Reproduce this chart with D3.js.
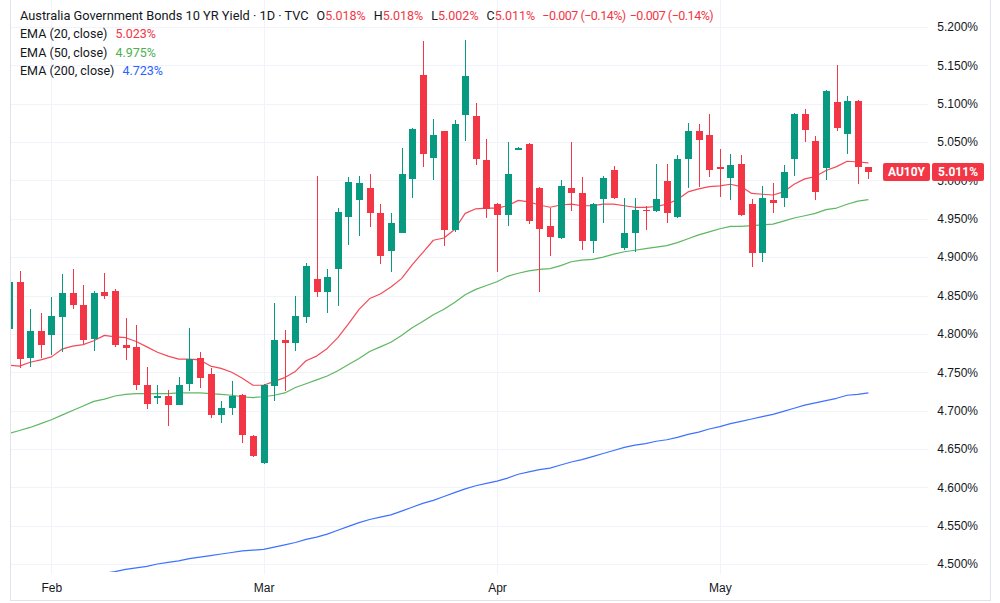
<!DOCTYPE html>
<html>
<head>
<meta charset="utf-8">
<script src="https://cdn.jsdelivr.net/npm/d3@7"></script>
<style>
  html, body { margin: 0; padding: 0; background: #ffffff; }
  svg { display: block; font-family: Roboto, "Noto Sans", sans-serif; }
</style>
</head>
<body>
<svg id="chart" width="1000" height="603"></svg>
<script>
// daily candles, AU10Y (percent)
const opens = [
  4.806, 4.868, 4.769, 4.804, 4.799, 4.822, 4.853, 4.838, 4.793, 4.855,
  4.856, 4.786, 4.783, 4.733, 4.717, 4.719, 4.707, 4.735, 4.768, 4.748,
  4.694, 4.704, 4.720, 4.667, 4.632, 4.732, 4.792, 4.788, 4.822, 4.871,
  4.855, 4.884, 4.952, 4.975, 4.990, 4.957, 4.908, 4.932, 5.002, 5.138,
  5.029, 5.064, 4.936, 5.085, 5.084, 5.026, 4.969, 4.955, 5.040, 5.048,
  4.990, 4.940, 4.925, 4.990, 4.984, 4.921, 4.976, 5.014, 4.912, 4.932,
  4.962, 4.960, 4.999, 4.952, 5.028, 5.064, 5.059, 5.017, 5.003, 5.022,
  4.969, 4.905, 4.974, 4.977, 5.028, 5.087, 5.051, 5.016, 5.102, 5.060,
  5.104, 5.018
];
const highs = [
  4.867, 4.882, 4.832, 4.827, 4.848, 4.878, 4.884, 4.864, 4.856, 4.879,
  4.859, 4.821, 4.811, 4.757, 4.733, 4.727, 4.744, 4.808, 4.776, 4.755,
  4.713, 4.738, 4.722, 4.668, 4.735, 4.840, 4.805, 4.849, 4.893, 5.006,
  4.884, 4.964, 5.004, 5.006, 5.008, 4.969, 4.958, 5.042, 5.068, 5.182,
  5.080, 5.065, 5.079, 5.183, 5.101, 5.054, 4.970, 5.050, 5.043, 5.049,
  4.991, 4.964, 5.001, 5.050, 5.004, 4.970, 5.006, 5.019, 4.977, 4.977,
  4.967, 5.021, 5.021, 5.033, 5.075, 5.074, 5.087, 5.041, 5.035, 5.033,
  4.976, 4.993, 4.996, 5.020, 5.088, 5.093, 5.058, 5.118, 5.151, 5.110,
  5.105, 5.018
];
const lows = [
  4.806, 4.756, 4.757, 4.769, 4.772, 4.777, 4.832, 4.787, 4.778, 4.846,
  4.783, 4.766, 4.727, 4.702, 4.708, 4.680, 4.707, 4.726, 4.730, 4.690,
  4.684, 4.694, 4.658, 4.640, 4.631, 4.713, 4.725, 4.778, 4.814, 4.848,
  4.827, 4.836, 4.916, 4.927, 4.939, 4.891, 4.880, 4.932, 4.977, 5.018,
  5.000, 4.914, 4.933, 5.051, 5.020, 4.951, 4.880, 4.940, 5.040, 4.943,
  4.854, 4.901, 4.923, 4.960, 4.909, 4.906, 4.945, 4.976, 4.909, 4.907,
  4.936, 4.959, 4.945, 4.951, 4.990, 4.991, 5.005, 4.979, 4.975, 4.954,
  4.887, 4.894, 4.958, 4.966, 5.006, 5.050, 4.975, 5.001, 5.064, 5.034,
  4.995, 5.002
];
const closes = [
  4.867, 4.767, 4.804, 4.786, 4.823, 4.853, 4.838, 4.792, 4.853, 4.850,
  4.785, 4.782, 4.733, 4.708, 4.719, 4.707, 4.733, 4.767, 4.743, 4.694,
  4.703, 4.719, 4.668, 4.641, 4.733, 4.792, 4.788, 4.823, 4.888, 4.855,
  4.874, 4.959, 4.998, 4.996, 4.958, 4.901, 4.945, 5.009, 5.067, 5.035,
  5.059, 4.935, 5.074, 5.136, 5.028, 4.963, 4.955, 5.009, 5.042, 4.947,
  4.937, 4.926, 4.993, 4.983, 4.921, 4.969, 5.003, 4.977, 4.932, 4.961,
  4.960, 4.976, 4.957, 5.028, 5.064, 5.053, 5.014, 5.015, 5.020, 4.955,
  4.905, 4.977, 4.971, 5.011, 5.087, 5.066, 4.985, 5.117, 5.068, 5.104,
  5.018, 5.011
];

// moving averages, read per candle
const ema20 = [
  4.759, 4.758, 4.763, 4.766, 4.770, 4.780, 4.784, 4.786, 4.791, 4.798,
  4.796, 4.795, 4.790, 4.783, 4.776, 4.771, 4.767, 4.767, 4.766, 4.758,
  4.755, 4.750, 4.742, 4.733, 4.733, 4.738, 4.743, 4.751, 4.765, 4.771,
  4.781, 4.795, 4.813, 4.832, 4.846, 4.852, 4.861, 4.872, 4.890, 4.906,
  4.922, 4.925, 4.936, 4.957, 4.963, 4.964, 4.964, 4.967, 4.974, 4.972,
  4.968, 4.965, 4.968, 4.969, 4.967, 4.967, 4.969, 4.969, 4.967, 4.965,
  4.965, 4.966, 4.969, 4.975, 4.985, 4.989, 4.992, 4.993, 4.995, 4.992,
  4.983, 4.982, 4.981, 4.985, 4.995, 5.002, 5.005, 5.013, 5.018, 5.025,
  5.024, 5.023
];
const ema50 = [
  4.670, 4.674, 4.678, 4.683, 4.688, 4.694, 4.700, 4.706, 4.712, 4.715,
  4.719, 4.721, 4.722, 4.722, 4.722, 4.722, 4.723, 4.723, 4.723, 4.722,
  4.721, 4.720, 4.718, 4.717, 4.718, 4.720, 4.723, 4.730, 4.735, 4.740,
  4.745, 4.752, 4.760, 4.768, 4.777, 4.783, 4.789, 4.798, 4.808, 4.816,
  4.825, 4.832, 4.841, 4.851, 4.858, 4.863, 4.868, 4.875, 4.879, 4.882,
  4.884, 4.885, 4.889, 4.894, 4.896, 4.897, 4.900, 4.904, 4.907, 4.909,
  4.911, 4.913, 4.915, 4.919, 4.924, 4.929, 4.933, 4.937, 4.940, 4.940,
  4.941, 4.942, 4.943, 4.947, 4.951, 4.954, 4.957, 4.962, 4.964, 4.969,
  4.973, 4.975
];
const ema200 = [
  4.468, 4.470, 4.472, 4.474, 4.476, 4.479, 4.481, 4.483, 4.485, 4.488,
  4.490, 4.493, 4.495, 4.497, 4.500, 4.502, 4.504, 4.507, 4.509, 4.511,
  4.513, 4.515, 4.517, 4.518, 4.519, 4.522, 4.525, 4.528, 4.532, 4.535,
  4.539, 4.544, 4.549, 4.554, 4.558, 4.561, 4.564, 4.569, 4.574, 4.579,
  4.583, 4.588, 4.593, 4.598, 4.602, 4.605, 4.608, 4.612, 4.617, 4.620,
  4.623, 4.625, 4.629, 4.633, 4.636, 4.640, 4.644, 4.648, 4.652, 4.655,
  4.657, 4.660, 4.662, 4.665, 4.669, 4.672, 4.676, 4.679, 4.683, 4.686,
  4.689, 4.692, 4.695, 4.699, 4.703, 4.707, 4.710, 4.713, 4.716, 4.720,
  4.721, 4.723
];

// first candle of each month and its label
const monthIndex = [4, 24, 46, 67];
const monthLabels = ['Feb', 'Mar', 'Apr', 'May'];
const yTicks = [4.5, 4.55, 4.6, 4.65, 4.7, 4.75, 4.8, 4.85, 4.9, 4.95, 5.0, 5.05, 5.1, 5.15, 5.2];

const symbolName = 'Australia Government Bonds 10 YR Yield · 1D · TVC';
const tickerName = 'AU10Y';

const UP = '#089981';
const DOWN = '#F23645';
const TEXT = '#131722';
const GRID = '#f0f3fa';

const width = 1000;
const height = 603;
const plot = { left: 11, right: 928, top: 0, bottom: 572 };

const n = closes.length;
const candles = d3.range(n).map(i => ({
  i, o: opens[i], h: highs[i], l: lows[i], c: closes[i]
}));

const x = d3.scaleLinear()
  .domain([0, n - 1])
  .range([8.9, 868.4]);

const y = d3.scaleLinear()
  .domain([4.5, 5.2])
  .range([564, 27]);

const svg = d3.select('#chart')
  .attr('viewBox', [0, 0, width, height]);

svg.append('defs').append('clipPath')
  .attr('id', 'plot-clip')
  .append('rect')
  .attr('x', plot.left)
  .attr('y', plot.top)
  .attr('width', plot.right - plot.left)
  .attr('height', plot.bottom - plot.top);

// grid
const grid = svg.append('g').attr('shape-rendering', 'crispEdges');
grid.selectAll('.hgrid')
  .data(yTicks)
  .enter().append('line')
  .attr('x1', plot.left)
  .attr('x2', plot.right)
  .attr('y1', d => Math.round(y(d)) + 0.5)
  .attr('y2', d => Math.round(y(d)) + 0.5)
  .attr('stroke', GRID);
grid.selectAll('.vgrid')
  .data(monthIndex)
  .enter().append('line')
  .attr('x1', d => Math.round(x(d)) + 0.5)
  .attr('x2', d => Math.round(x(d)) + 0.5)
  .attr('y1', plot.top)
  .attr('y2', plot.bottom + 2)
  .attr('stroke', GRID);

const body = svg.append('g').attr('clip-path', 'url(#plot-clip)');

// EMA lines
const line = d3.line()
  .x((d, i) => x(i))
  .y(d => y(d));

[[ema200, '#2962FF'], [ema50, '#4CAF50'], [ema20, '#F23645']].forEach(([values, color]) => {
  body.append('path')
    .datum(values)
    .attr('fill', 'none')
    .attr('stroke', color)
    .attr('stroke-width', 1.2)
    .attr('stroke-opacity', 0.9)
    .attr('stroke-linejoin', 'round')
    .attr('d', line);
});

// candles
const candle = body.selectAll('.candle')
  .data(candles)
  .enter().append('g')
  .attr('class', 'candle')
  .attr('shape-rendering', 'crispEdges');

candle.append('line')
  .attr('x1', d => Math.round(x(d.i)) + 0.5)
  .attr('x2', d => Math.round(x(d.i)) + 0.5)
  .attr('y1', d => y(d.h))
  .attr('y2', d => y(d.l))
  .attr('stroke', d => d.c >= d.o ? UP : DOWN);

candle.append('rect')
  .attr('x', d => Math.round(x(d.i)) - 3)
  .attr('width', 7)
  .attr('y', d => y(Math.max(d.o, d.c)))
  .attr('height', d => Math.max(1.5, Math.abs(y(d.o) - y(d.c))))
  .attr('fill', d => d.c >= d.o ? UP : DOWN);

// price axis
const yAxis = svg.append('g')
  .attr('transform', 'translate(978,0)')
  .call(d3.axisLeft(y)
    .tickValues(yTicks)
    .tickSize(0)
    .tickPadding(0)
    .tickFormat(d => d.toFixed(3) + '%'));
yAxis.select('.domain').remove();
yAxis.selectAll('text')
  .attr('fill', TEXT)
  .style('font-size', '12px');

// time axis
const xAxis = svg.append('g')
  .attr('transform', `translate(0,${plot.bottom})`)
  .call(d3.axisBottom(x)
    .tickValues(monthIndex)
    .tickSize(0)
    .tickPadding(11)
    .tickFormat((d, i) => monthLabels[i]));
xAxis.select('.domain').remove();
xAxis.selectAll('text')
  .attr('fill', TEXT)
  .style('font-size', '12px');

// outer frame
svg.append('rect')
  .attr('x', 10.5)
  .attr('y', -1)
  .attr('width', 980)
  .attr('height', 601.5)
  .attr('fill', 'none')
  .attr('stroke', '#e0e3eb');

// last price labels
const last = candles[n - 1];
const lastY = y(last.c);
const lastColor = last.c >= last.o ? UP : DOWN;
svg.append('rect')
  .attr('x', 883).attr('y', lastY - 9)
  .attr('width', 47).attr('height', 18)
  .attr('rx', 2)
  .attr('fill', lastColor);
svg.append('text')
  .attr('x', 906.5).attr('y', lastY + 4.5)
  .attr('text-anchor', 'middle')
  .attr('fill', '#fff')
  .style('font-size', '12px')
  .style('font-weight', 'bold')
  .text(tickerName);
svg.append('rect')
  .attr('x', 932).attr('y', lastY - 9)
  .attr('width', 52).attr('height', 18)
  .attr('rx', 2)
  .attr('fill', lastColor);
svg.append('text')
  .attr('x', 978).attr('y', lastY + 4.5)
  .attr('text-anchor', 'end')
  .attr('fill', '#fff')
  .style('font-size', '12px')
  .style('font-weight', 'bold')
  .text(last.c.toFixed(3) + '%');

// legend
const pct = v => v.toFixed(3) + '%';
const signed = v => (v < 0 ? '\u2212' : '+') + Math.abs(v).toFixed(3);
const chg = last.c - closes[n - 2];
const chgPct = chg / closes[n - 2] * 100;
const chgText = `${signed(chg)} (${chg < 0 ? '\u2212' : '+'}${Math.abs(chgPct).toFixed(2)}%)`;

const head = svg.append('text')
  .attr('x', 20).attr('y', 19.5)
  .attr('fill', TEXT)
  .style('font-size', '12.5px');
head.append('tspan').style('font-size', '12.8px').text(symbolName);
[['O', last.o], ['H', last.h], ['L', last.l], ['C', last.c]].forEach(([k, v]) => {
  head.append('tspan').attr('dx', 8).text(k);
  head.append('tspan').attr('fill', lastColor).text(pct(v));
});
head.append('tspan').attr('dx', 7).attr('fill', lastColor)
  .attr('letter-spacing', -0.5).text(chgText);
head.append('tspan').attr('dx', 4).attr('fill', lastColor)
  .attr('letter-spacing', -0.5).text(chgText);

const emaRows = [
  ['EMA (20, close)', ema20, '#F23645'],
  ['EMA (50, close)', ema50, '#4CAF50'],
  ['EMA (200, close)', ema200, '#2962FF']
];
emaRows.forEach(([label, values, color], k) => {
  const t = svg.append('text')
    .attr('x', 20).attr('y', 38 + k * 18.7)
    .attr('fill', TEXT)
    .style('font-size', '12.5px');
  t.append('tspan').text(label);
  t.append('tspan').attr('dx', 8).attr('fill', color).text(pct(values[values.length - 1]));
});
</script>
</body>
</html>
